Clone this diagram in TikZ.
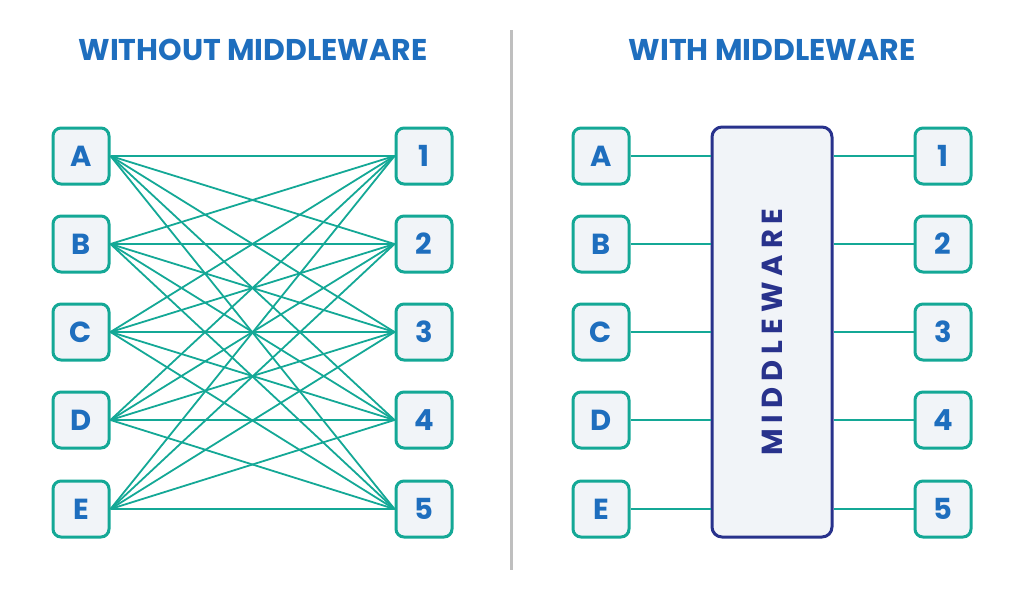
\documentclass[tikz,border=0pt]{standalone}
\usepackage{fontspec}
\setmainfont{Poppins}
\usetikzlibrary{positioning}
\definecolor{linkcolor}{RGB}{20,168,150}
\definecolor{labelcolor}{RGB}{30,110,190}
\definecolor{boxfill}{RGB}{241,244,248}
\definecolor{mwcolor}{RGB}{40,50,140}
\begin{document}
\begin{tikzpicture}[x=1pt,y=-1pt,
    endpoint/.style={draw=linkcolor,line width=3pt,fill=boxfill,rounded corners=8pt,
        minimum size=56pt,inner sep=0pt,text=labelcolor,font=\fontsize{29}{29}\selectfont\bfseries},
    link/.style={linkcolor,line width=1.8pt},
    title/.style={text=labelcolor,font=\fontsize{30}{30}\selectfont\bfseries}]
    \useasboundingbox (0,0) rectangle (1024,597);

    % Titles and divider
    \node[title] (tleft) at (253,50) {WITHOUT MIDDLEWARE};
    \node[title] (tright) at (772,50) {WITH MIDDLEWARE};
    \draw[black!25,line width=3pt] (511,30) -- (511,570);

    % Without middleware
    \foreach \n/\y in {A/156,B/244,C/332,D/420,E/509} {
        \node[endpoint] (l\n) at (81,\y) {\n};
    }
    \foreach \n/\y in {1/156,2/244,3/332,4/420,5/509} {
        \node[endpoint] (r\n) at (424,\y) {\n};
    }
    \foreach \a in {A,B,C,D,E} {
        \foreach \b in {1,2,3,4,5} {
            \draw[link] (l\a.east) -- (r\b.west);
        }
    }

    % With middleware
    \node[draw=mwcolor,line width=3pt,fill=boxfill,rounded corners=10pt,
        minimum width=120pt,minimum height=410pt] (mw) at (772,332) {};
    \node[rotate=90,text=mwcolor,font=\fontsize{29}{29}\selectfont\bfseries] (mwtext) at (mw.center)
        {M\hspace{6pt}I\hspace{6pt}D\hspace{6pt}D\hspace{6pt}L\hspace{6pt}E\hspace{6pt}W\hspace{6pt}A\hspace{6pt}R\hspace{6pt}E};
    \foreach \n/\y in {A/156,B/244,C/332,D/420,E/509} {
        \node[endpoint] (m\n) at (601,\y) {\n};
        \draw[link] (m\n.east) -- (mw.west |- m\n);
    }
    \foreach \n/\y in {1/156,2/244,3/332,4/420,5/509} {
        \node[endpoint] (s\n) at (943,\y) {\n};
        \draw[link] (mw.east |- s\n) -- (s\n.west);
    }
\end{tikzpicture}
\end{document}
